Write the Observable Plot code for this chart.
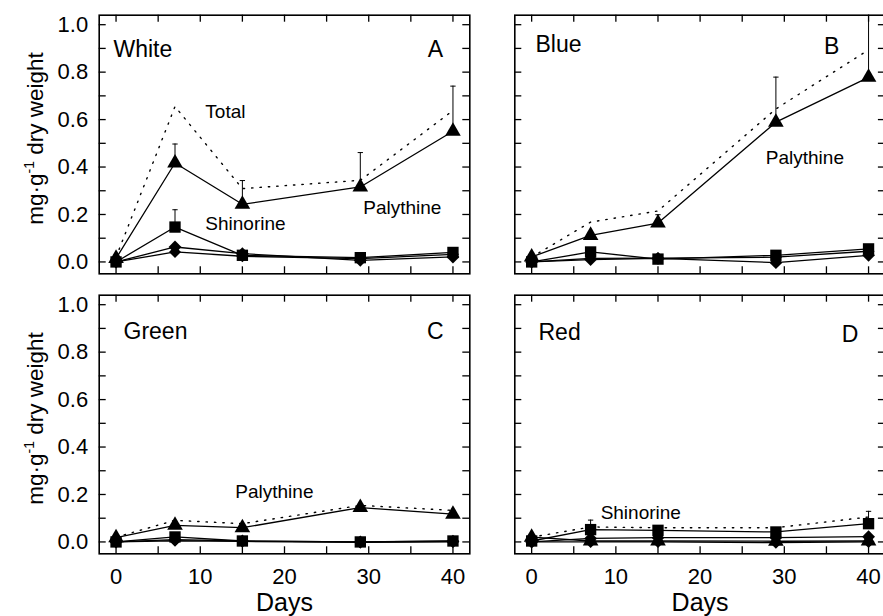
<!DOCTYPE html>
<html><head><meta charset="utf-8">
<script src="https://cdn.jsdelivr.net/npm/d3@7"></script>
<script src="https://cdn.jsdelivr.net/npm/@observablehq/plot@0.6"></script>
<style>
html,body{margin:0;padding:0;background:#fff;}
#chart{position:relative;width:883px;height:616px;overflow:hidden;background:#fff;}
#chart > svg{position:absolute;}
</style></head><body><div id="chart"></div>
<script>
// ---- data ----
const days = [0, 7, 15, 29, 40];
const lightNames = ["White", "Blue", "Green", "Red"];
const panelLetters = ["A", "B", "C", "D"];
const xTickValues = [0, 5, 10, 15, 20, 25, 30, 35, 40];
const xLabelValues = [0, 10, 20, 30, 40];
const yTickValues = [0, 0.1, 0.2, 0.3, 0.4, 0.5, 0.6, 0.7, 0.8, 0.9, 1.0];
const yLabelValues = [0, 0.2, 0.4, 0.6, 0.8, 1.0];
const yLabel = "mg·g-1 dry weight";
const xLabel = "Days";

// one row per panel: White, Blue, Green, Red
const palythine = [
  [0.015, 0.417, 0.243, 0.316, 0.551],
  [0.021, 0.112, 0.164, 0.589, 0.778],
  [0.018, 0.070, 0.060, 0.145, 0.117],
  [0.020, 0.004, 0.004, 0.003, 0.004]
];
const palythineErr = [
  [0, 0.080, 0.100, 0.145, 0.190],
  [0, 0, 0.035, 0.190, 0.300],
  [0, 0, 0, 0, 0],
  [0, 0, 0, 0, 0]
];
const shinorine = [
  [0.000, 0.147, 0.028, 0.018, 0.040],
  [0.000, 0.042, 0.012, 0.028, 0.055],
  [0.000, 0.021, 0.004, 0.000, 0.004],
  [0.004, 0.052, 0.049, 0.042, 0.077]
];
const shinorineErr = [
  [0, 0.073, 0, 0, 0],
  [0, 0, 0, 0, 0],
  [0, 0, 0, 0, 0],
  [0, 0.040, 0, 0, 0.052]
];
const maa3 = [
  [0.000, 0.063, 0.035, 0.007, 0.021],
  [0.000, 0.010, 0.015, -0.003, 0.028],
  [0.000, 0.010, 0.004, 0.000, 0.003],
  [0.000, 0.015, 0.018, 0.018, 0.022]
];
const maa4 = [
  [0.000, 0.042, 0.024, 0.014, 0.032],
  [0.000, 0.015, 0.016, 0.020, 0.045],
  [0.000, 0.005, 0.002, -0.002, 0.000],
  [0.000, 0.000, 0.000, -0.003, 0.000]
];
const total = [
  [0.020, 0.655, 0.309, 0.344, 0.638],
  [0.020, 0.168, 0.215, 0.645, 0.894],
  [0.020, 0.091, 0.077, 0.154, 0.133],
  [0.020, 0.063, 0.060, 0.060, 0.105]
];
const seriesLabels = [
  {panel: 0, text: "Total", day: 10.6, value: 0.607},
  {panel: 0, text: "Shinorine", day: 10.6, value: 0.133},
  {panel: 0, text: "Palythine", day: 29.35, value: 0.204},
  {panel: 1, text: "Palythine", day: 27.8, value: 0.411},
  {panel: 2, text: "Palythine", day: 14.16, value: 0.187},
  {panel: 3, text: "Shinorine", day: 8.19, value: 0.097}
];

// ---- layout ----
const FONT = "'Liberation Sans', Arial, Helvetica, sans-serif";
const PW = 370.6, PH = 258.6, TICK = 7;
const layout = [
  {left: 0,   top: 0,   width: 490, height: 284, mL: 98.7, mR: 20.7, mT: 14.7, mB: 10.7, nameDx: 14.3, nameDy: 41.3, letterDx: -26.6, letterDy: 41.3, leftCol: true,  bottomRow: false},
  {left: 490, top: 0,   width: 396, height: 284, mL: 24.3, mR: 1.1,  mT: 14.7, mB: 10.7, nameDx: 20.7, nameDy: 36.4, letterDx: -46,   letterDy: 38.6, leftCol: false, bottomRow: false},
  {left: 0,   top: 284, width: 490, height: 332, mL: 98.7, mR: 20.7, mT: 10.7, mB: 62.7, nameDx: 24.3, nameDy: 43.3, letterDx: -26.3, letterDy: 43.3, leftCol: true,  bottomRow: true},
  {left: 490, top: 284, width: 396, height: 332, mL: 24.3, mR: 1.1,  mT: 10.7, mB: 62.7, nameDx: 23.7, nameDy: 44.3, letterDx: -27,   letterDy: 47,   leftCol: false, bottomRow: true}
];

const capSymbol = {draw(ctx, size) { const w = Math.sqrt(size) / 2; ctx.moveTo(-w, 0); ctx.lineTo(w, 0); }};

function rowsFor(arr, i, series, errArr) {
  return days.map((d, j) => ({day: d, value: arr[i][j], err: errArr ? errArr[i][j] : 0, series}));
}

const container = document.getElementById("chart");
const ns = "http://www.w3.org/2000/svg";

layout.forEach((L, i) => {
  const pal = rowsFor(palythine, i, "Palythine", palythineErr);
  const shi = rowsFor(shinorine, i, "Shinorine", shinorineErr);
  const m3 = rowsFor(maa3, i, "maa3");
  const m4 = rowsFor(maa4, i, "maa4");
  const tot = rowsFor(total, i, "Total");
  const solid = [...pal, ...shi, ...m3, ...m4];
  const errs = [...pal, ...shi].filter(d => d.err > 0);

  const marks = [
    Plot.frame({stroke: "black", strokeWidth: 1.6}),
    Plot.ruleX(xTickValues, {x: d => d, insetTop: PH - TICK, stroke: "black", strokeWidth: 1.3}),
    Plot.ruleX(xTickValues, {x: d => d, insetBottom: PH - TICK, stroke: "black", strokeWidth: 1.3}),
    Plot.ruleY(yTickValues, {y: d => d, insetRight: PW - TICK, stroke: "black", strokeWidth: 1.3}),
    Plot.ruleY(yTickValues, {y: d => d, insetLeft: PW - TICK, stroke: "black", strokeWidth: 1.3}),
    Plot.line(tot, {x: "day", y: "value", stroke: "black", strokeWidth: 1.4, strokeDasharray: "1.4,7"}),
    Plot.line(solid, {x: "day", y: "value", z: "series", stroke: "black", strokeWidth: 1.3}),
    Plot.ruleX(errs, {x: "day", y1: "value", y2: d => d.value + d.err, stroke: "black", strokeWidth: 1, clip: true}),
    Plot.dot(errs, {x: "day", y: d => d.value + d.err, symbol: capSymbol, r: 3, stroke: "black", strokeWidth: 1, fill: "none", clip: true}),
    Plot.dot(m4, {x: "day", y: "value", symbol: "diamond2", r: 5.4, fill: "black"}),
    Plot.dot(m3, {x: "day", y: "value", symbol: "diamond2", r: 5.8, fill: "black"}),
    Plot.dot(shi, {x: "day", y: "value", symbol: "square", r: 6.4, fill: "black"}),
    Plot.dot(pal, {x: "day", y: "value", symbol: "triangle", r: 5.8, fill: "black"}),
    Plot.text([lightNames[i]], {text: d => d, frameAnchor: "top-left", textAnchor: "start", lineAnchor: "bottom", dx: L.nameDx, dy: L.nameDy, fontSize: 23, fill: "black"}),
    Plot.text([panelLetters[i]], {text: d => d, frameAnchor: "top-right", textAnchor: "end", lineAnchor: "bottom", dx: L.letterDx, dy: L.letterDy, fontSize: 23, fill: "black"}),
    Plot.text(seriesLabels.filter(d => d.panel === i), {x: "day", y: "value", text: "text", textAnchor: "start", lineAnchor: "bottom", fontSize: 19, fill: "black"})
  ];
  if (L.leftCol) {
    marks.push(Plot.axisY({anchor: "left", ticks: yLabelValues, tickSize: 0, tickPadding: 11, tickFormat: d3.format(".1f"), fontSize: 22, label: null}));
    marks.push(Plot.text([yLabel], {text: d => d, frameAnchor: "left", rotate: -90, dx: -63.7, dy: -6, textAnchor: "middle", lineAnchor: "middle", fontSize: 22.5, fill: "black"}));
  }
  if (L.bottomRow) {
    marks.push(Plot.axisX({anchor: "bottom", ticks: xLabelValues, tickSize: 0, tickPadding: 14.7, fontSize: 22, label: null}));
    marks.push(Plot.text([xLabel], {text: d => d, frameAnchor: "bottom", dy: 56.7, lineAnchor: "bottom", fontSize: 25, fill: "black"}));
  }

  const svg = Plot.plot({
    width: L.width,
    height: L.height,
    marginLeft: L.mL, marginRight: L.mR, marginTop: L.mT, marginBottom: L.mB,
    x: {domain: [-2, 42], axis: L.bottomRow ? undefined : null},
    y: {domain: [-0.05, 1.04], axis: L.leftCol ? undefined : null},
    style: {fontFamily: FONT, color: "black", background: "transparent", overflow: "visible"},
    marks
  });
  svg.style.left = L.left + "px";
  svg.style.top = L.top + "px";

  svg.querySelectorAll("text").forEach(t => {
    if (t.textContent === yLabel) {
      t.textContent = "";
      const a = document.createElementNS(ns, "tspan"); a.textContent = "mg·g";
      const b = document.createElementNS(ns, "tspan"); b.textContent = "-1";
      b.setAttribute("dy", "-9"); b.setAttribute("font-size", "14");
      const c = document.createElementNS(ns, "tspan"); c.textContent = " dry weight";
      c.setAttribute("dy", "9");
      t.append(a, b, c);
    }
  });
  container.appendChild(svg);
});
</script></body></html>
